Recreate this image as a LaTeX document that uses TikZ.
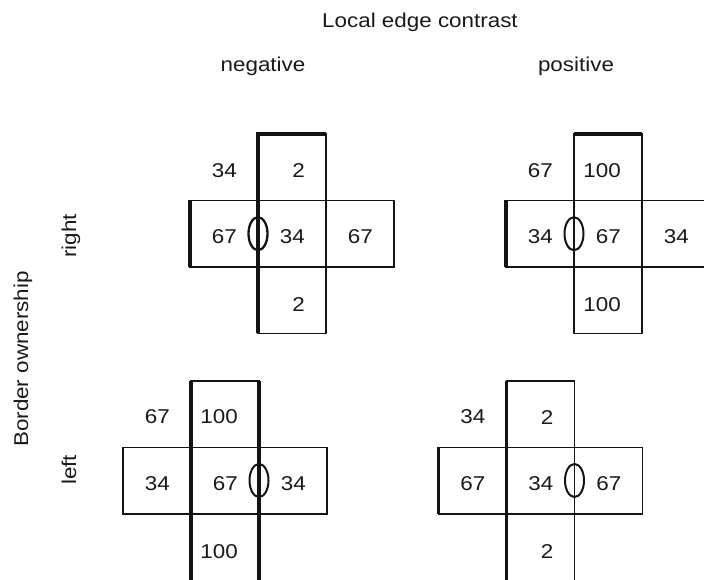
\documentclass[tikz,border=0pt]{standalone}
\usepackage{fontspec}
\setmainfont{Liberation Sans}[FakeStretch=1.12]
\tikzset{
  cellline/.style={line width=1.5pt, draw=black!92},
  edgebold/.style={line width=3.3pt, draw=black!92},
  ownell/.style={line width=2pt, draw=black!92},
  num/.style={font=\fontsize{20}{24}\selectfont, inner sep=0pt, anchor=east, text=black!90},
  lab/.style={font=\fontsize{20}{24}\selectfont, inner sep=0pt, anchor=base, text=black!90}
}
% #1 name prefix, #2 cx, #3 cy, #4 corner, #5 top, #6 left, #7 centre, #8 right, #9 bottom
\newcommand\mycross[9]{%
  \draw[cellline] ({#2-34},{#3-99.75}) rectangle ({#2+34},{#3+99.75});
  \draw[cellline] ({#2-102},{#3-33.25}) rectangle ({#2+102},{#3+33.25});
  \node[num] (#1-c) at ({#2-55},{#3-63.4}) {#4};
  \node[num] (#1-t) at ({#2+13},{#3-63.4}) {#5};
  \node[num] (#1-l) at ({#2-55},{#3+3}) {#6};
  \node[num] (#1-m) at ({#2+13},{#3+3}) {#7};
  \node[num] (#1-r) at ({#2+81},{#3+3}) {#8};
  \node[num] (#1-b) at ({#2+13},{#3+71.3}) {#9};
}
\begin{document}
\begin{tikzpicture}[x=1pt, y=-1pt]
  \useasboundingbox (0,0) rectangle (704,580);
  % titles
  \node[lab] (title) at (420,28) {Local edge contrast};
  \node[lab] (neg) at (263,72) {negative};
  \node[lab] (pos) at (576,72) {positive};
  \node[lab, rotate=90] (rightlab) at (76,236) {right};
  \node[lab, rotate=90] (leftlab) at (76,470) {left};
  \node[lab, rotate=90] (bo) at (28,359) {Border ownership};
  % crosses
  \mycross{tl}{292}{233.7}{34}{2}{67}{34}{67}{2}
  \mycross{tr}{608}{233.7}{67}{100}{34}{67}{34}{100}
  \mycross{bl}{225}{480.5}{67}{100}{34}{67}{34}{100}
  \mycross{br}{540.5}{480.5}{34}{2}{67}{34}{67}{2}
  % thick (owned) edges
  \draw[edgebold, line join=miter] (258,333.45) -- (258,133.95) -- (326,133.95);
  \draw[edgebold] (190,200.45) -- (190,266.95);
  \draw[edgebold] (574,133.95) -- (642,133.95);
  \draw[edgebold] (506,200.45) -- (506,266.95);
  \draw[edgebold] (191,380.75) -- (191,580.25);
  \draw[edgebold] (259,380.75) -- (259,580.25);
  \draw[edgebold] (506.5,380.75) -- (506.5,580.25);
  \draw[edgebold] (438.5,447.25) -- (438.5,513.75);
  % receptive-field ellipses
  \draw[ownell, line width=2.3pt] (258,233.7) ellipse [x radius=9.5, y radius=16.5];
  \draw[ownell] (574,233.7) ellipse [x radius=9.5, y radius=16.5];
  \draw[ownell] (259,480.5) ellipse [x radius=9.5, y radius=16.5];
  \draw[ownell] (574.5,480.5) ellipse [x radius=9.5, y radius=16.5];
\end{tikzpicture}
\end{document}
